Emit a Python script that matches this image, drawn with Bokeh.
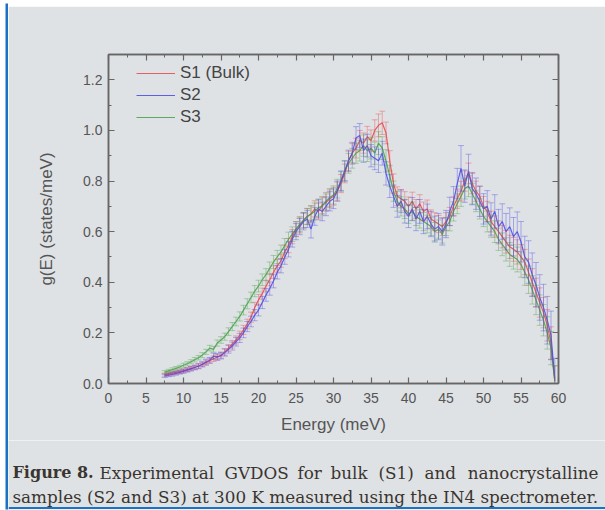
from bokeh.plotting import figure
from bokeh.layouts import row, column
from bokeh.models import (ColumnDataSource, Whisker, TeeHead, Legend, LegendItem,
                          LinearAxis, FixedTicker, Range1d, PrintfTickFormatter)
from bokeh.core.properties import value
from bokeh.embed import file_html
from bokeh.resources import INLINE

# ---------------- data ----------------
energy = [
    7.5, 8.0, 8.5, 9.0, 9.5, 10.0, 10.5, 11.0, 11.5, 12.0,
    12.5, 13.0, 13.5, 14.0, 14.5, 15.0, 15.5, 16.0, 16.5, 17.0,
    17.5, 18.0, 18.5, 19.0, 19.5, 20.0, 20.5, 21.0, 21.5, 22.0,
    22.5, 23.0, 23.5, 24.0, 24.5, 25.0, 25.5, 26.0, 26.5, 27.0,
    27.5, 28.0, 28.5, 29.0, 29.5, 30.0, 30.5, 31.0, 31.5, 32.0,
    32.5, 33.0, 33.5, 34.0, 34.5, 35.0, 35.5, 36.0, 36.5, 37.0,
    37.5, 38.0, 38.5, 39.0, 39.5, 40.0, 40.5, 41.0, 41.5, 42.0,
    42.5, 43.0, 43.5, 44.0, 44.5, 45.0, 45.5, 46.0, 46.5, 47.0,
    47.5, 48.0, 48.5, 49.0, 49.5, 50.0, 50.5, 51.0, 51.5, 52.0,
    52.5, 53.0, 53.5, 54.0, 54.5, 55.0, 55.5, 56.0, 56.5, 57.0,
    57.5, 58.0, 58.5, 59.0, 59.5,
]

s1 = [
    0.035, 0.038, 0.041, 0.044, 0.047, 0.051, 0.055, 0.060, 0.064, 0.069,
    0.075, 0.082, 0.090, 0.098, 0.104, 0.112, 0.125, 0.140, 0.155, 0.172,
    0.190, 0.212, 0.235, 0.262, 0.300, 0.330, 0.355, 0.385, 0.410, 0.440,
    0.465, 0.485, 0.520, 0.545, 0.580, 0.610, 0.625, 0.645, 0.660, 0.670,
    0.690, 0.680, 0.705, 0.715, 0.730, 0.740, 0.760, 0.790, 0.830, 0.880,
    0.910, 0.930, 0.960, 0.950, 0.975, 0.960, 1.000, 1.020, 1.030, 0.990,
    0.880, 0.790, 0.740, 0.730, 0.720, 0.700, 0.720, 0.690, 0.710, 0.680,
    0.690, 0.650, 0.640, 0.630, 0.620, 0.640, 0.660, 0.700, 0.730, 0.760,
    0.800, 0.830, 0.790, 0.760, 0.740, 0.700, 0.680, 0.640, 0.620, 0.600,
    0.580, 0.560, 0.540, 0.530, 0.520, 0.500, 0.480, 0.440, 0.400, 0.360,
    0.320, 0.280, 0.230, 0.160, 0.010,
]
s1_err = [
    0.006, 0.006, 0.006, 0.007, 0.007, 0.007, 0.008, 0.008, 0.008, 0.009,
    0.009, 0.010, 0.010, 0.011, 0.011, 0.012, 0.013, 0.014, 0.015, 0.016,
    0.017, 0.018, 0.019, 0.020, 0.021, 0.022, 0.022, 0.023, 0.024, 0.025,
    0.025, 0.026, 0.027, 0.028, 0.028, 0.029, 0.030, 0.030, 0.031, 0.032,
    0.032, 0.033, 0.034, 0.034, 0.035, 0.035, 0.036, 0.036, 0.037, 0.038,
    0.038, 0.039, 0.040, 0.040, 0.041, 0.042, 0.042, 0.045, 0.046, 0.043,
    0.040, 0.038, 0.037, 0.036, 0.038, 0.037, 0.036, 0.037, 0.036, 0.037,
    0.035, 0.036, 0.035, 0.034, 0.035, 0.035, 0.036, 0.037, 0.038, 0.039,
    0.040, 0.041, 0.040, 0.040, 0.039, 0.039, 0.040, 0.041, 0.042, 0.043,
    0.044, 0.045, 0.046, 0.047, 0.048, 0.049, 0.050, 0.052, 0.054, 0.056,
    0.058, 0.060, 0.062, 0.064, 0.060,
]

s2 = [
    0.030, 0.033, 0.036, 0.040, 0.044, 0.048, 0.053, 0.058, 0.063, 0.068,
    0.076, 0.085, 0.092, 0.108, 0.105, 0.110, 0.122, 0.135, 0.148, 0.165,
    0.180, 0.200, 0.225, 0.245, 0.270, 0.290, 0.320, 0.350, 0.375, 0.405,
    0.440, 0.465, 0.500, 0.530, 0.570, 0.600, 0.620, 0.640, 0.650, 0.610,
    0.660, 0.690, 0.680, 0.700, 0.720, 0.730, 0.760, 0.800, 0.840, 0.880,
    0.910, 0.970, 0.980, 0.920, 0.940, 0.900, 0.890, 0.880, 0.910, 0.830,
    0.780, 0.740, 0.700, 0.720, 0.680, 0.660, 0.690, 0.650, 0.680, 0.640,
    0.660, 0.630, 0.610, 0.620, 0.600, 0.630, 0.680, 0.720, 0.790, 0.850,
    0.780, 0.840, 0.770, 0.750, 0.720, 0.690, 0.700, 0.650, 0.680, 0.620,
    0.640, 0.600, 0.620, 0.580, 0.600, 0.560, 0.500, 0.480, 0.430, 0.390,
    0.340, 0.300, 0.250, 0.190, 0.020,
]
s2_err = [
    0.006, 0.006, 0.007, 0.007, 0.007, 0.008, 0.008, 0.009, 0.009, 0.010,
    0.010, 0.011, 0.011, 0.012, 0.013, 0.013, 0.014, 0.015, 0.016, 0.017,
    0.018, 0.019, 0.020, 0.021, 0.022, 0.023, 0.024, 0.025, 0.026, 0.027,
    0.027, 0.028, 0.029, 0.030, 0.031, 0.032, 0.032, 0.033, 0.034, 0.035,
    0.035, 0.036, 0.037, 0.037, 0.038, 0.039, 0.040, 0.040, 0.041, 0.042,
    0.043, 0.045, 0.047, 0.046, 0.045, 0.044, 0.045, 0.046, 0.047, 0.046,
    0.045, 0.044, 0.043, 0.045, 0.046, 0.044, 0.045, 0.046, 0.047, 0.048,
    0.049, 0.050, 0.051, 0.052, 0.053, 0.054, 0.056, 0.058, 0.060, 0.090,
    0.064, 0.066, 0.064, 0.062, 0.060, 0.060, 0.062, 0.064, 0.066, 0.068,
    0.070, 0.072, 0.074, 0.076, 0.078, 0.080, 0.082, 0.084, 0.086, 0.088,
    0.090, 0.092, 0.094, 0.096, 0.080,
]

s3 = [
    0.045, 0.050, 0.055, 0.060, 0.065, 0.072, 0.078, 0.086, 0.094, 0.102,
    0.112, 0.125, 0.140, 0.135, 0.160, 0.172, 0.185, 0.205, 0.225, 0.245,
    0.265, 0.290, 0.315, 0.340, 0.365, 0.385, 0.410, 0.430, 0.455, 0.480,
    0.500, 0.520, 0.545, 0.570, 0.590, 0.610, 0.630, 0.645, 0.660, 0.670,
    0.680, 0.695, 0.700, 0.720, 0.735, 0.745, 0.770, 0.800, 0.840, 0.870,
    0.890, 0.910, 0.920, 0.940, 0.920, 0.930, 0.910, 0.950, 0.930, 0.880,
    0.820, 0.760, 0.720, 0.700, 0.690, 0.670, 0.680, 0.660, 0.650, 0.640,
    0.630, 0.620, 0.600, 0.610, 0.590, 0.620, 0.640, 0.680, 0.710, 0.740,
    0.770, 0.780, 0.750, 0.720, 0.690, 0.660, 0.640, 0.620, 0.600, 0.570,
    0.550, 0.530, 0.510, 0.500, 0.490, 0.470, 0.440, 0.410, 0.370, 0.330,
    0.290, 0.250, 0.200, 0.140, 0.010,
]
s3_err = [
    0.006, 0.006, 0.007, 0.007, 0.007, 0.008, 0.008, 0.008, 0.009, 0.009,
    0.010, 0.010, 0.011, 0.011, 0.012, 0.013, 0.014, 0.015, 0.016, 0.017,
    0.018, 0.019, 0.020, 0.021, 0.022, 0.023, 0.023, 0.024, 0.025, 0.026,
    0.026, 0.027, 0.028, 0.028, 0.029, 0.030, 0.030, 0.031, 0.032, 0.032,
    0.033, 0.034, 0.034, 0.035, 0.035, 0.036, 0.037, 0.037, 0.038, 0.039,
    0.039, 0.040, 0.041, 0.042, 0.043, 0.043, 0.044, 0.045, 0.045, 0.044,
    0.042, 0.040, 0.039, 0.038, 0.038, 0.037, 0.037, 0.036, 0.036, 0.036,
    0.035, 0.035, 0.036, 0.036, 0.035, 0.036, 0.037, 0.038, 0.039, 0.040,
    0.041, 0.042, 0.041, 0.041, 0.040, 0.040, 0.041, 0.042, 0.043, 0.044,
    0.045, 0.046, 0.047, 0.048, 0.049, 0.050, 0.052, 0.054, 0.056, 0.058,
    0.060, 0.062, 0.064, 0.066, 0.060,
]

series_labels = ["S1 (Bulk)", "S2", "S3"]
x_ticks = [0, 5, 10, 15, 20, 25, 30, 35, 40, 45, 50, 55, 60]
x_minor = [2.5, 7.5, 12.5, 17.5, 22.5, 27.5, 32.5, 37.5, 42.5, 47.5, 52.5, 57.5]
y_ticks = [0.0, 0.2, 0.4, 0.6, 0.8, 1.0, 1.2]
y_minor = [0.1, 0.3, 0.5, 0.7, 0.9, 1.1, 1.3]

caption_bold = "Figure 8."
caption_line1 = "Experimental GVDOS for bulk (S1) and nanocrystalline"
caption_line2 = "samples (S2 and S3) at 300 K measured using the IN4 spectrometer."

# ---------------- style ----------------
BG = "#dfe2e5"
BLUE = "#1a72c6"
AX = "#666666"
TXT = "#555555"
CAP = "#3a3530"
colors = ["#e8474a", "#4848e6", "#45a045"]

# left blue border strip
strip = figure(width=8, height=510, output_backend="svg", toolbar_location=None,
               x_range=Range1d(0, 1), y_range=Range1d(0, 1),
               x_axis_location=None, y_axis_location=None,
               min_border_left=5, min_border_right=0, min_border_top=3, min_border_bottom=1,
               border_fill_color="white", background_fill_color=BLUE,
               outline_line_color=None)
strip.grid.visible = False

# top blue border strip
topstrip = figure(width=597, height=6, output_backend="svg", toolbar_location=None,
                  x_range=Range1d(0, 1), y_range=Range1d(0, 1),
                  x_axis_location=None, y_axis_location=None,
                  min_border_left=0, min_border_right=0, min_border_top=3, min_border_bottom=0,
                  border_fill_color="white", background_fill_color=BLUE,
                  outline_line_color=None)
topstrip.grid.visible = False

# main chart
p = figure(width=597, height=434, output_backend="svg", toolbar_location=None,
           x_range=Range1d(0, 60), y_range=Range1d(0, 1.3),
           min_border_left=100, min_border_right=47, min_border_top=48,
           min_border_bottom=57,
           background_fill_color=BG, border_fill_color=BG,
           outline_line_color=AX, outline_line_width=1.5)
p.xgrid.visible = False
p.ygrid.visible = False


def style_axis(ax, ticks, minor, show_labels=True):
    ax.ticker = FixedTicker(ticks=ticks, minor_ticks=minor)
    ax.axis_line_color = AX
    ax.axis_line_width = 1.5
    ax.major_tick_line_color = AX
    ax.minor_tick_line_color = AX
    ax.major_tick_line_width = 1.2
    ax.minor_tick_line_width = 1.0
    ax.major_tick_in = 6
    ax.major_tick_out = 0
    ax.minor_tick_in = 3
    ax.minor_tick_out = 0
    ax.major_label_text_font = "Liberation Sans"
    ax.major_label_text_font_size = "14px"
    ax.major_label_text_color = TXT if show_labels else None
    ax.axis_label_text_font = "Liberation Sans"
    ax.axis_label_text_font_size = "17px"
    ax.axis_label_text_font_style = "normal"
    ax.axis_label_text_color = TXT


xa = p.xaxis[0]
ya = p.yaxis[0]
style_axis(xa, x_ticks, x_minor)
style_axis(ya, y_ticks, y_minor)
ya.formatter = PrintfTickFormatter(format="%.1f")
xa.axis_label = "Energy (meV)"
ya.axis_label = "g(E) (states/meV)"
xa.major_label_standoff = 9
xa.axis_label_standoff = 9
ya.major_label_standoff = 6
ya.axis_label_standoff = 24

top = LinearAxis()
style_axis(top, x_ticks, x_minor, show_labels=False)
top.major_label_text_font_size = "1px"
p.add_layout(top, "above")
right = LinearAxis()
style_axis(right, y_ticks, y_minor, show_labels=False)
right.major_label_text_font_size = "1px"
p.add_layout(right, "right")

line_renderers = {}
for key, vals, errs, col in [("s1", s1, s1_err, colors[0]), ("s3", s3, s3_err, colors[2]),
                             ("s2", s2, s2_err, colors[1])]:
    src = ColumnDataSource(dict(
        x=energy, y=vals,
        lo=[v - e for v, e in zip(vals, errs)],
        hi=[v + e for v, e in zip(vals, errs)],
    ))
    w = Whisker(source=src, base="x", upper="hi", lower="lo",
                line_color=col, line_alpha=0.4, line_width=1,
                upper_head=TeeHead(size=6, line_color=col, line_alpha=0.4, line_width=1),
                lower_head=TeeHead(size=6, line_color=col, line_alpha=0.4, line_width=1),
                level="glyph")
    p.add_layout(w)
    line_renderers[key] = p.line("x", "y", source=src, line_color=col, line_width=1.2,
                                 line_alpha=0.85)

legend = Legend(items=[LegendItem(label=series_labels[0], renderers=[line_renderers["s1"]]),
                       LegendItem(label=series_labels[1], renderers=[line_renderers["s2"]]),
                       LegendItem(label=series_labels[2], renderers=[line_renderers["s3"]])],
                location=(28, 255), background_fill_alpha=0, border_line_color=None,
                label_text_font="Liberation Sans", label_text_font_size="17px",
                label_text_color="#444444", glyph_width=39, glyph_height=22,
                label_height=22, spacing=0, padding=0, margin=0, label_standoff=5)
p.add_layout(legend)

# caption panel (coordinates = page pixels)
cap = figure(width=597, height=70, output_backend="svg", toolbar_location=None,
             x_range=Range1d(8, 605), y_range=Range1d(510, 440),
             x_axis_location=None, y_axis_location=None,
             min_border_left=0, min_border_right=0, min_border_top=0, min_border_bottom=0,
             background_fill_color=BG, border_fill_color=BG, outline_line_color=None)
cap.grid.visible = False
cap.quad(left=[8], right=[605], top=[506.5], bottom=[508.7], fill_color=BLUE, line_color=None)
cap.quad(left=[8], right=[605], top=[508.7], bottom=[510], fill_color="white", line_color=None)

cap.text(x=[12], y=[472], text=[caption_bold], text_font=value("DejaVu Serif"),
         text_font_style="bold", text_font_size="16px", text_color=CAP,
         text_baseline="alphabetic")
line1_words = caption_line1.split(" ")
# justified word starts (last word right-aligned to the text block edge)
line1_x = [99, 224, 297, 330, 378, 424]
cap.text(x=line1_x, y=[472] * len(line1_x), text=line1_words[:-1],
         text_font=value("DejaVu Serif"), text_font_size="16.8px", text_color=CAP,
         text_baseline="alphabetic")
cap.text(x=[598], y=[472], text=line1_words[-1:], text_font=value("DejaVu Serif"),
         text_font_size="16.8px", text_color=CAP, text_baseline="alphabetic",
         text_align="right")
cap.text(x=[12], y=[496], text=[caption_line2], text_font=value("DejaVu Serif"),
         text_font_size="16.8px", text_color=CAP, text_baseline="alphabetic")

# nested columns keep each figure's frame independent
layout = row(strip, column(column(topstrip), column(p), column(cap)))
open("out.html", "w").write(file_html(layout, INLINE))
